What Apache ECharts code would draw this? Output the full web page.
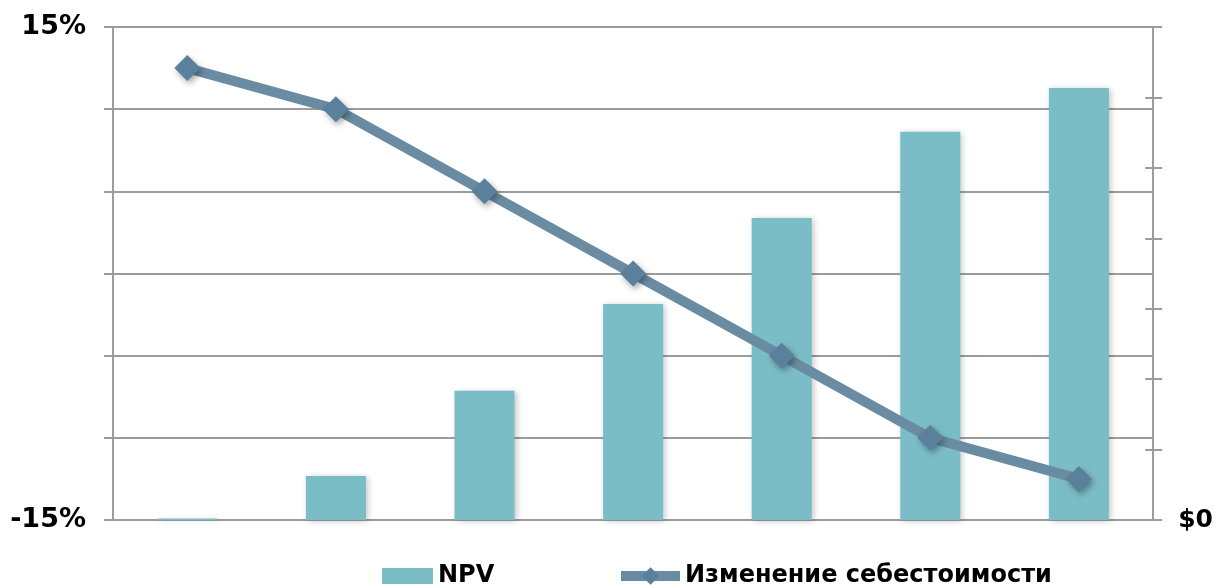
<!DOCTYPE html>
<html>
<head>
<meta charset="utf-8">
<script src="https://cdn.jsdelivr.net/npm/echarts@6/dist/echarts.min.js"></script>
<style>
html,body{margin:0;padding:0;background:#fff;}
#chart{width:1216px;height:585px;}
</style>
</head>
<body>
<div id="chart"></div>
<script>
var categories = ['1', '2', '3', '4', '5', '6', '7'];
var npvValues = [0.02, 0.625, 1.836, 3.067, 4.288, 5.513, 6.134];
var costChange = [12.5, 10, 5, 0, -5, -10, -12.5];
var leftTickLabels = {'15': '15%', '-15': '-15%'};
var rightTickLabels = {'0': '$0'};
var seriesNames = ['NPV', 'Изменение себестоимости'];

var FONT = '"DejaVu Sans", Verdana, sans-serif';
var GRAY = '#9c9c9c';
var legendText = {fontFamily: FONT, fontWeight: 'bold', fontSize: 24, color: '#000'};

var chart = echarts.init(document.getElementById('chart'), null, {renderer: 'canvas'});
chart.setOption({
  animation: false,
  backgroundColor: '#ffffff',
  grid: {left: 113, right: 61, top: 27, bottom: 65, containLabel: false},
  legend: [
    {
      data: [{name: seriesNames[0], icon: 'rect'}],
      left: 382, top: 564, padding: 0,
      itemWidth: 51, itemHeight: 16,
      textStyle: legendText
    },
    {
      data: [{name: seriesNames[1]}],
      left: 616, top: 564, padding: 0,
      itemWidth: 59, itemHeight: 22,
      lineStyle: {width: 10},
      textStyle: legendText
    }
  ],
  xAxis: {
    type: 'category',
    data: categories,
    axisLine: {show: true, lineStyle: {color: GRAY, width: 2}},
    axisTick: {show: false},
    axisLabel: {show: false},
    splitLine: {show: false}
  },
  yAxis: [
    {
      type: 'value', position: 'left', min: -15, max: 15, interval: 5,
      axisLine: {show: true, lineStyle: {color: GRAY, width: 2}},
      axisTick: {show: true, length: 9, lineStyle: {color: GRAY, width: 2}},
      splitLine: {show: true, lineStyle: {color: GRAY, width: 2}},
      axisLabel: {
        margin: 27,
        fontFamily: FONT, fontWeight: 'bold', fontSize: 27, color: '#000',
        formatter: function (v) { return leftTickLabels[String(v)] || ''; }
      }
    },
    {
      type: 'value', position: 'right', min: 0, max: 7, interval: 1,
      axisLine: {show: true, lineStyle: {color: GRAY, width: 2}},
      axisTick: {show: true, length: 9, lineStyle: {color: GRAY, width: 2}},
      splitLine: {show: false},
      axisLabel: {
        margin: 25,
        fontFamily: FONT, fontWeight: 'bold', fontSize: 25, color: '#000',
        formatter: function (v) { return rightTickLabels[String(v)] || ''; }
      }
    },
    {
      type: 'value', position: 'right', min: 0, max: 7, interval: 1,
      axisLine: {show: false},
      axisTick: {show: true, inside: true, length: 8, lineStyle: {color: GRAY, width: 2}},
      splitLine: {show: false},
      axisLabel: {show: false}
    }
  ],
  series: [
    {
      name: seriesNames[0],
      type: 'bar',
      yAxisIndex: 1,
      data: npvValues,
      barWidth: 60,
      itemStyle: {
        color: '#7bbdc6',
        shadowBlur: 6, shadowColor: 'rgba(0,0,0,0.22)', shadowOffsetX: 2, shadowOffsetY: 1
      },
      z: 2
    },
    {
      name: seriesNames[1],
      type: 'line',
      yAxisIndex: 0,
      data: costChange,
      symbol: 'diamond',
      symbolSize: 26,
      lineStyle: {color: '#6a8ca2', width: 10},
      itemStyle: {
        color: '#5a809b',
        shadowBlur: 6, shadowColor: 'rgba(0,0,0,0.35)', shadowOffsetX: 2, shadowOffsetY: 3
      },
      z: 3
    }
  ]
});
</script>
</body>
</html>
